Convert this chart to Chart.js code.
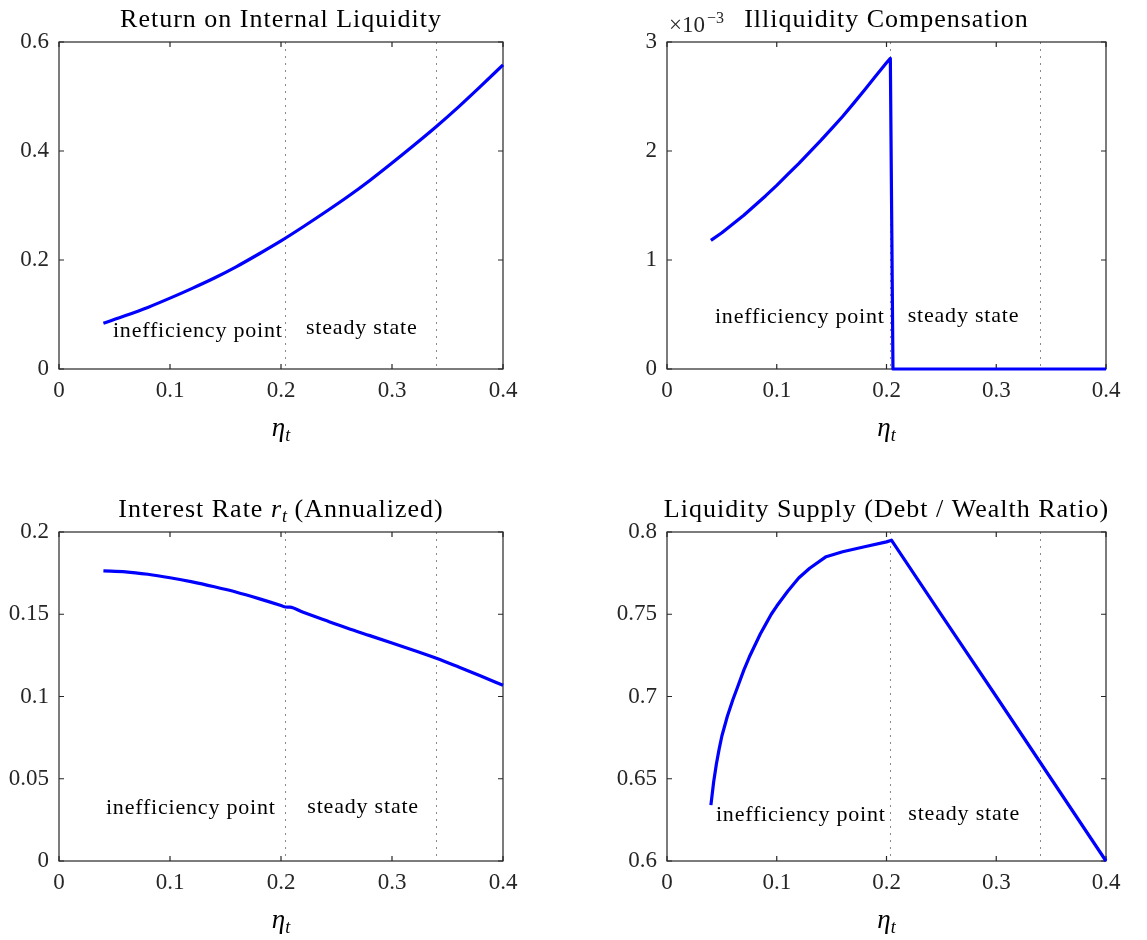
<!DOCTYPE html>
<html>
<head>
<meta charset="utf-8">
<script src="https://cdn.jsdelivr.net/npm/chart.js@4.4.1/dist/chart.umd.min.js"></script>
<style>
  html, body { margin: 0; padding: 0; background: #fff; }
  #fig { position: relative; width: 1147px; height: 940px; }
  canvas { position: absolute; }
</style>
</head>
<body>
<div id="fig">
  <canvas id="c1" width="573" height="470" style="left:0;top:0"></canvas>
  <canvas id="c2" width="574" height="470" style="left:573px;top:0"></canvas>
  <canvas id="c3" width="573" height="470" style="left:0;top:470px"></canvas>
  <canvas id="c4" width="574" height="470" style="left:573px;top:470px"></canvas>
</div>
<script>
// Repères verticaux : point d'inefficience et état stationnaire
const etaInefficiency = 0.2036;
const etaSteadyState = 0.34;

// Rendement de la liquidité interne
const etaReturn = [0.04, 0.06, 0.08, 0.10, 0.12, 0.14, 0.16, 0.18, 0.20, 0.22,
                   0.24, 0.26, 0.28, 0.30, 0.32, 0.34, 0.36, 0.38, 0.40];
const returnLiquidity = [0.084, 0.098, 0.113, 0.130, 0.148, 0.167, 0.188, 0.211, 0.235, 0.261,
                         0.288, 0.316, 0.346, 0.378, 0.411, 0.445, 0.481, 0.519, 0.558];

// Compensation d'illiquidité (en unités de 10^-3)
const etaComp = [0.04, 0.05, 0.06, 0.07, 0.08, 0.09, 0.10, 0.11, 0.12, 0.13, 0.14, 0.15,
                 0.16, 0.17, 0.18, 0.19, 0.20, 0.2035, 0.2059, 0.25, 0.30, 0.35, 0.40];
const illiquidityComp = [1.18, 1.25, 1.33, 1.41, 1.50, 1.59, 1.685, 1.785, 1.885, 1.99, 2.095, 2.205,
                         2.317, 2.437, 2.56, 2.685, 2.81, 2.85, 0, 0, 0, 0, 0];

// Taux d'intérêt annualisé
const etaRate = [0.04, 0.06, 0.08, 0.10, 0.12, 0.14, 0.16, 0.18, 0.20, 0.204, 0.208,
                 0.22, 0.24, 0.26, 0.28, 0.30, 0.32, 0.34, 0.36, 0.38, 0.40];
const interestRate = [0.1764, 0.1758, 0.1743, 0.1722, 0.1697, 0.1667, 0.1634, 0.1595, 0.1553, 0.1544, 0.1543,
                      0.1512, 0.1463, 0.1415, 0.1370, 0.1325, 0.1280, 0.1233, 0.1180, 0.1125, 0.1068];

// Offre de liquidité (ratio dette / richesse)
const etaSupply = [0.040, 0.0425, 0.045, 0.0475, 0.050, 0.055, 0.060, 0.065, 0.070, 0.075,
                   0.080, 0.085, 0.090, 0.095, 0.100, 0.110, 0.120, 0.130, 0.145, 0.160,
                   0.180, 0.200, 0.2045, 0.25, 0.30, 0.35, 0.40];
const debtWealth = [0.634, 0.648, 0.659, 0.668, 0.676, 0.688, 0.698, 0.707, 0.716, 0.724,
                    0.731, 0.738, 0.744, 0.750, 0.755, 0.764, 0.772, 0.778, 0.785, 0.788,
                    0.791, 0.794, 0.795, 0.7496, 0.700, 0.650, 0.600];

// Graduations
const xTicks = [0, 0.1, 0.2, 0.3, 0.4];

const FONT = "'Liberation Serif', 'Times New Roman', serif";
const INK = '#262626';

// Habillage façon MATLAB : cadre, graduations internes, titres, annotations
const decor = {
    id: 'decor',
    beforeDatasetsDraw(chart, args, opts) {
        const { ctx, chartArea: a, scales: { x, y } } = chart;
        ctx.save();
        // pointillés verticaux
        ctx.strokeStyle = '#8a8a8a';
        ctx.lineWidth = 1;
        ctx.setLineDash([2, 5]);
        [etaInefficiency, etaSteadyState].forEach(v => {
            const px = Math.round(x.getPixelForValue(v)) + 0.5;
            ctx.beginPath();
            ctx.moveTo(px, a.top);
            ctx.lineTo(px, a.bottom);
            ctx.stroke();
        });
        ctx.setLineDash([]);
        // cadre
        ctx.strokeStyle = INK;
        ctx.lineWidth = 1.2;
        ctx.strokeRect(a.left, a.top, a.right - a.left, a.bottom - a.top);
        // graduations vers l'intérieur
        const tl = 5;
        ctx.beginPath();
        x.ticks.forEach(t => {
            const px = x.getPixelForValue(t.value);
            ctx.moveTo(px, a.bottom); ctx.lineTo(px, a.bottom - tl);
            ctx.moveTo(px, a.top); ctx.lineTo(px, a.top + tl);
        });
        y.ticks.forEach(t => {
            const py = y.getPixelForValue(t.value);
            ctx.moveTo(a.left, py); ctx.lineTo(a.left + tl, py);
            ctx.moveTo(a.right, py); ctx.lineTo(a.right - tl, py);
        });
        ctx.stroke();
        ctx.restore();
    },
    afterDatasetsDraw(chart, args, opts) {
        const { ctx, chartArea: a, scales: { x, y } } = chart;
        ctx.save();
        ctx.fillStyle = '#000';
        ctx.textBaseline = 'alphabetic';
        ctx.textAlign = 'left';

        // titre (segments avec italique / indice)
        const segs = opts.title.map(s => {
            const size = s.sub ? 18 : 26;
            const font = (s.it ? 'italic ' : '') + size + 'px ' + FONT;
            ctx.font = font;
            ctx.letterSpacing = s.sub ? '0px' : '1px';
            return { ...s, font, w: ctx.measureText(s.t).width };
        });
        const total = segs.reduce((acc, s) => acc + s.w, 0);
        let cx = (a.left + a.right) / 2 - total / 2;
        const base = a.top - 15;
        segs.forEach(s => {
            ctx.font = s.font;
            ctx.letterSpacing = s.sub ? '0px' : '1px';
            ctx.fillText(s.t, cx, base + (s.sub ? 5 : 0));
            cx += s.w;
        });

        // facteur d'échelle
        if (opts.exponent) {
            ctx.letterSpacing = '0px';
            ctx.fillStyle = INK;
            ctx.font = '23px ' + FONT;
            ctx.fillText('\u00d710', a.left + 2, a.top - 10);
            const w = ctx.measureText('\u00d710').width;
            ctx.font = '16px ' + FONT;
            ctx.fillText('\u22123', a.left + 4 + w, a.top - 19);
        }

        // étiquette de l'axe x : eta_t
        ctx.fillStyle = '#000';
        ctx.letterSpacing = '0px';
        ctx.font = 'italic 27px ' + FONT;
        const wEta = ctx.measureText('\u03b7').width;
        ctx.font = 'italic 18px ' + FONT;
        const wT = ctx.measureText('t').width;
        const ex = (a.left + a.right) / 2 - (wEta + wT) / 2;
        ctx.font = 'italic 27px ' + FONT;
        ctx.fillText('\u03b7', ex, a.bottom + 67);
        ctx.font = 'italic 18px ' + FONT;
        ctx.fillText('t', ex + wEta, a.bottom + 72);

        // annotations
        ctx.font = '22px ' + FONT;
        ctx.letterSpacing = '0.8px';
        opts.notes.forEach(n => {
            ctx.fillText(n.text, x.getPixelForValue(n.x), y.getPixelForValue(n.y));
        });
        ctx.restore();
    }
};

function makeChart(id, cfg) {
    const canvas = document.getElementById(id);
    const W = canvas.width, H = canvas.height;
    const area = cfg.area;
    const tickFont = { family: FONT, size: 23 };
    return new Chart(canvas, {
        type: 'line',
        data: {
            datasets: [{
                data: cfg.x.map((v, i) => ({ x: v, y: cfg.y[i] })),
                borderColor: '#0000ff',
                borderWidth: 3.2,
                pointRadius: 0,
                tension: 0,
                cubicInterpolationMode: cfg.smooth ? 'monotone' : 'default',
                borderJoinStyle: 'round',
                borderCapStyle: 'butt',
                fill: false,
                clip: 6
            }]
        },
        options: {
            responsive: false,
            animation: false,
            devicePixelRatio: 1,
            layout: {
                padding: { left: 0, top: area.top, right: W - area.right, bottom: H - area.bottom - 40 }
            },
            plugins: {
                legend: { display: false },
                tooltip: { enabled: false },
                decor: { title: cfg.title, notes: cfg.notes, exponent: cfg.exponent }
            },
            scales: {
                x: {
                    type: 'linear',
                    min: 0, max: 0.4,
                    afterBuildTicks: s => { s.ticks = xTicks.map(v => ({ value: v })); },
                    ticks: {
                        font: tickFont, color: INK, padding: 8, maxRotation: 0,
                        callback: v => String(+v.toFixed(3))
                    },
                    grid: { display: false, drawTicks: false },
                    border: { display: false },
                    afterFit: s => { s.height = 40; }
                },
                y: {
                    type: 'linear',
                    min: cfg.yMin, max: cfg.yMax,
                    afterBuildTicks: s => { s.ticks = cfg.yTicks.map(v => ({ value: v })); },
                    ticks: {
                        font: tickFont, color: INK, padding: 10,
                        callback: v => String(+v.toFixed(3))
                    },
                    grid: { display: false, drawTicks: false },
                    border: { display: false },
                    afterFit: s => { s.width = area.left; }
                }
            }
        },
        plugins: [decor]
    });
}

makeChart('c1', {
    area: { left: 59, top: 42, right: 503, bottom: 369 },
    x: etaReturn, y: returnLiquidity, smooth: true,
    yMin: 0, yMax: 0.6, yTicks: [0, 0.2, 0.4, 0.6],
    title: [{ t: 'Return on Internal Liquidity' }],
    notes: [{ text: 'inefficiency point', x: 0.0486, y: 0.0596 },
            { text: 'steady state', x: 0.2225, y: 0.0637 }]
});

makeChart('c2', {
    area: { left: 94, top: 42, right: 533, bottom: 369 },
    x: etaComp, y: illiquidityComp, smooth: false,
    yMin: 0, yMax: 3, yTicks: [0, 1, 2, 3],
    exponent: true,
    title: [{ t: 'Illiquidity Compensation' }],
    notes: [{ text: 'inefficiency point', x: 0.0437, y: 0.419 },
            { text: 'steady state', x: 0.2193, y: 0.434 }]
});

makeChart('c3', {
    area: { left: 59, top: 62, right: 503, bottom: 391 },
    x: etaRate, y: interestRate, smooth: true,
    yMin: 0, yMax: 0.2, yTicks: [0, 0.05, 0.1, 0.15, 0.2],
    title: [{ t: 'Interest Rate ' }, { t: 'r', it: true }, { t: 't', it: true, sub: true }, { t: ' (Annualized)' }],
    notes: [{ text: 'inefficiency point', x: 0.0423, y: 0.0284 },
            { text: 'steady state', x: 0.2237, y: 0.029 }]
});

makeChart('c4', {
    area: { left: 94, top: 62, right: 533, bottom: 391 },
    x: etaSupply, y: debtWealth, smooth: false,
    yMin: 0.6, yMax: 0.8, yTicks: [0.6, 0.65, 0.7, 0.75, 0.8],
    title: [{ t: 'Liquidity Supply (Debt / Wealth Ratio)' }],
    notes: [{ text: 'inefficiency point', x: 0.0446, y: 0.6243 },
            { text: 'steady state', x: 0.2199, y: 0.6249 }]
});
</script>
</body>
</html>
